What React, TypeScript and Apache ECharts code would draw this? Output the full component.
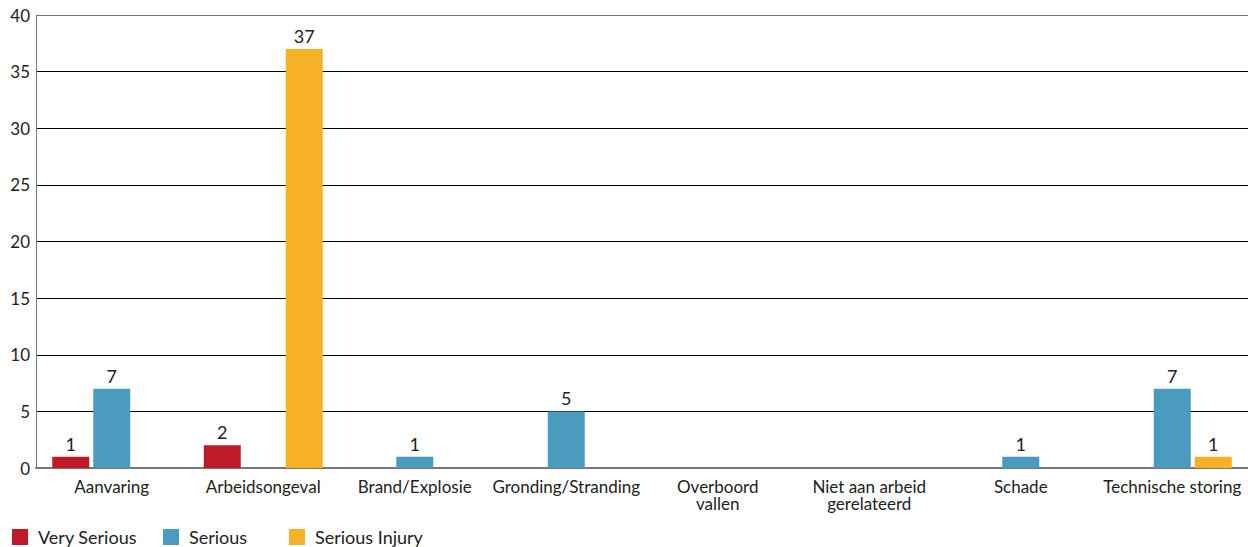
import React, { useEffect, useRef } from "react";
import * as echarts from "echarts";

const categories = [
  "Aanvaring",
  "Arbeidsongeval",
  "Brand/Explosie",
  "Gronding/Stranding",
  "Overboord\nvallen",
  "Niet aan arbeid\ngerelateerd",
  "Schade",
  "Technische storing",
];
const verySerious = [1, 2, 0, 0, 0, 0, 0, 0];
const serious = [7, 0, 1, 5, 0, 0, 1, 7];
const seriousInjury = [0, 37, 0, 0, 0, 0, 0, 1];
const seriesNames = ["Very Serious", "Serious", "Serious Injury"];
const colors = ["#BE1A27", "#4A9BBD", "#F7B125"];
const legendLefts = [12, 163, 289];

const FONT = "Lato, 'Noto Sans', sans-serif";

export default function App() {
  const ref = useRef<HTMLDivElement>(null);
  useEffect(() => {
    if (!ref.current) return;
    const chart = echarts.init(ref.current, undefined, { renderer: "svg" });
    const mk = (name: string, data: number[], color: string) => ({
      name,
      type: "bar",
      data,
      barWidth: 37,
      barGap: "10.8%",
      itemStyle: { color },
      label: {
        show: true,
        position: "top",
        distance: 4,
        color: "#222",
        fontSize: 18,
        fontFamily: FONT,
        formatter: (p: any) => (p.value === 0 ? "" : String(p.value)),
      },
    });
    chart.setOption({
      animation: false,
      textStyle: { fontFamily: FONT },
      legend: seriesNames.map((n, i) => ({
        left: legendLefts[i],
        top: 528,
        padding: 0,
        itemWidth: 16,
        itemHeight: 16,
        icon: "rect",
        textStyle: { fontSize: 18, color: "#222", fontFamily: FONT, padding: [0, 0, 0, 5] },
        data: [n],
      })),
      grid: { left: 36, right: 0, top: 15, bottom: 79, containLabel: false },
      xAxis: {
        type: "category",
        data: categories,
        axisLine: { lineStyle: { color: "#777", width: 2 } },
        axisTick: { show: false },
        axisLabel: {
          interval: 0,
          fontSize: 17,
          color: "#222",
          fontFamily: FONT,
          margin: 10,
          lineHeight: 17,
        },
      },
      yAxis: {
        type: "value",
        min: 0,
        max: 40,
        interval: 5,
        axisLine: { show: true, lineStyle: { color: "#777", width: 1 } },
        axisTick: { show: false },
        axisLabel: { fontSize: 17, color: "#222", fontFamily: FONT, margin: 6 },
        splitLine: {
          lineStyle: {
            color: ["#000", "#000", "#000", "#000", "#000", "#000", "#000", "#000", "#777"],
            width: 1,
          },
        },
      },
      series: [
        mk(seriesNames[0], verySerious, colors[0]),
        mk(seriesNames[1], serious, colors[1]),
        mk(seriesNames[2], seriousInjury, colors[2]),
      ],
    });
    return () => chart.dispose();
  }, []);
  return <div ref={ref} style={{ width: 1248, height: 547, position: "absolute", left: 0, top: 0 }} />;
}
